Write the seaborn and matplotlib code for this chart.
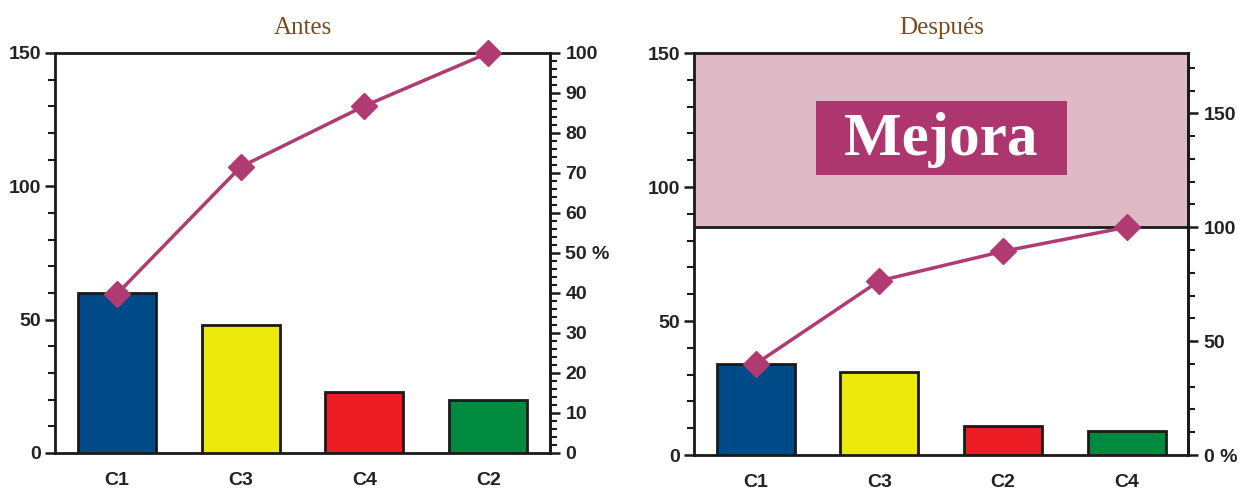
import matplotlib
matplotlib.use("Agg")
import matplotlib.pyplot as plt
import numpy as np
import pandas as pd
import seaborn as sns
from matplotlib.patches import Rectangle
from matplotlib.ticker import MultipleLocator, FixedLocator

# ── Datos ─────────────────────────────────────────────────────────────────────
antes_cat = ["C1", "C3", "C4", "C2"]
antes_val = [60, 48, 23, 20]
despues_cat = ["C1", "C3", "C2", "C4"]
despues_val = [34, 31, 11, 9]

colores = {"C1": "#004b87", "C3": "#ece80c", "C4": "#ec1c24", "C2": "#008a40"}
colores_despues = {"C1": "#004b87", "C3": "#ece80c", "C2": "#ec1c24", "C4": "#008a40"}

LINEA = "#b03a72"
MARRON = "#7b4a1c"
TXT = "#222222"
SERIF = ["Liberation Serif", "DejaVu Serif"]
sns.set_theme(style="white")
plt.rcParams["font.family"] = ["Liberation Sans Narrow", "Liberation Sans", "DejaVu Sans"]

fig = plt.figure(figsize=(12.47, 4.91), dpi=100)
ax1 = fig.add_axes([0.0441, 0.0774, 0.397, 0.8147])
ax2 = fig.add_axes([0.5565, 0.0733, 0.3965, 0.8187])


def pareto(ax, cats, vals, pal):
    df = pd.DataFrame({"cat": cats, "val": vals})
    sns.barplot(data=df, x="cat", y="val", hue="cat", palette=pal, order=cats,
                width=0.63, saturation=1, edgecolor="#1a1a1a", linewidth=2,
                legend=False, ax=ax, zorder=3)
    ax.set_xlim(-0.5, 3.5)
    ax.set_ylim(0, 150)
    ax.set_xlabel("")
    ax.set_ylabel("")
    ax.yaxis.set_major_locator(MultipleLocator(50))
    ax.yaxis.set_minor_locator(MultipleLocator(10))
    ax.xaxis.set_minor_locator(FixedLocator(np.arange(-0.5, 4, 1)))
    ax.tick_params(axis="both", which="major", direction="out", length=7, width=1.8,
                   color="#1a1a1a", labelsize=14, labelcolor=TXT, pad=3)
    ax.tick_params(axis="both", which="minor", direction="out", length=5, width=1.5,
                   color="#1a1a1a")
    ax.tick_params(axis="x", which="minor", length=7, width=1.8)
    ax.tick_params(axis="x", which="major", pad=7)
    for lab in ax.get_xticklabels() + ax.get_yticklabels():
        lab.set_fontweight("bold")
    for s in ax.spines.values():
        s.set_linewidth(2)
        s.set_color("#1a1a1a")
    tot = sum(vals)
    acum = np.cumsum(vals) / tot * 100
    tw = ax.twinx()
    tw.plot(range(len(cats)), acum, color=LINEA, lw=2.5, marker="D", ms=13,
            mec=LINEA, mfc=LINEA, zorder=5, clip_on=False)
    tw.spines["right"].set_linewidth(2)
    tw.spines["right"].set_color("#1a1a1a")
    for k in ("left", "top", "bottom"):
        tw.spines[k].set_visible(False)
    return tw, tot


def eje_derecho(tw, ticks, labels, minor):
    tw.yaxis.set_minor_locator(MultipleLocator(minor))
    tw.tick_params(axis="y", which="major", direction="out", length=7, width=1.8,
                   color="#1a1a1a", labelsize=14, labelcolor=TXT, pad=4)
    tw.tick_params(axis="y", which="minor", direction="out", length=5, width=1.5,
                   color="#1a1a1a")
    tw.set_yticks(ticks)
    tw.set_yticklabels(labels, fontweight="bold")


tw1, tot1 = pareto(ax1, antes_cat, antes_val, colores)
tw1.set_ylim(0, 100)
pct1 = list(range(0, 101, 10))
eje_derecho(tw1, pct1, [("50 %" if v == 50 else str(v)) for v in pct1], 2)

tw2, tot2 = pareto(ax2, despues_cat, despues_val, colores_despues)
tw2.set_ylim(0, 150 / tot2 * 100)
pct2 = [0, 50, 100, 150]
eje_derecho(tw2, pct2, ["0 %", "50", "100", "150"], 10)

# zona de mejora
ax2.axhspan(tot2, 150, color="#e0b9c6", zorder=0)
ax2.axhline(tot2, color="#1a1a1a", lw=2, zorder=4)
ax2.add_patch(Rectangle((0.49, 104.5), 2.03, 27.5, fc="#ae366e", ec="none", zorder=5))
ax2.text(1.5, 117.5, "Mejora", ha="center", va="center", fontsize=44,
         fontweight="bold", color="white", family=SERIF, zorder=6)

for ax, t in ((ax1, "Antes"), (ax2, "Después")):
    ax.set_title(t, fontsize=18, color=MARRON, family=SERIF, pad=14)

fig.savefig("out.png", dpi=100)
